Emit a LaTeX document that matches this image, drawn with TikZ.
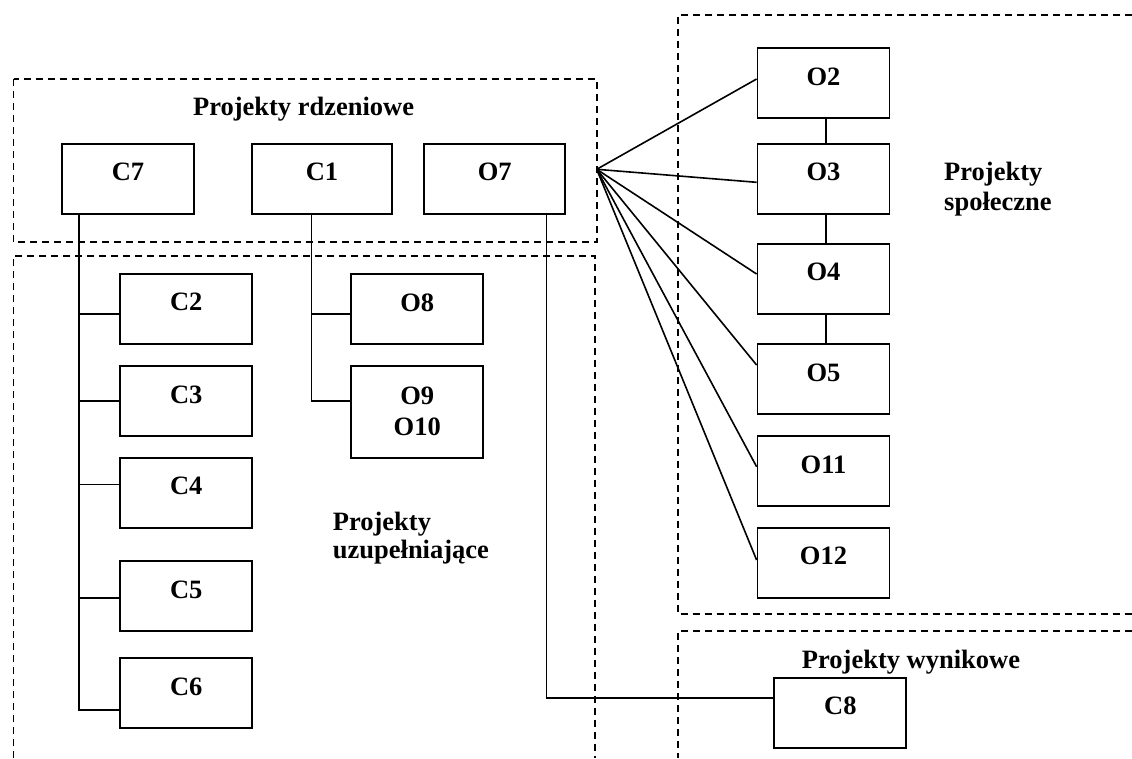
\documentclass[tikz,border=0pt]{standalone}
\usepackage{fontspec}
\setmainfont{Liberation Serif}
\usetikzlibrary{calc}
\begin{document}
\begin{tikzpicture}[x=1pt,y=-1pt,
  boxbase/.style={draw, line width=1.8pt, minimum width=132pt, minimum height=70pt, inner sep=0pt,
    font=\bfseries\fontsize{26.5}{31}\selectfont},
  box/.style={boxbase, text height=18pt, text depth=14pt},
  grp/.style={dash pattern=on 7pt off 5pt, line width=1.6pt},
  link/.style={line width=1.6pt},
  title/.style={font=\bfseries\fontsize{26.5}{30}\selectfont, inner sep=0pt}]
\useasboundingbox (0,0) rectangle (1132,758);

% group frames
\draw[grp] (13.5,78.7) rectangle (596.7,242);
\draw[grp] (13.5,758) -- (13.5,255.7) -- (595,255.7) -- (595,758);
\draw[grp] (1132,14.7) -- (678,14.7) -- (678,614) -- (1132,614);
\draw[grp] (1132,631) -- (678,631) -- (678,758);

% group titles
\node[title, anchor=base] (trdz) at (303.6,115) {Projekty rdzeniowe};
\node[title, anchor=base] (twyn) at (911,668.3) {Projekty wynikowe};
\node[title, anchor=north west, align=left] (tspo) at (944,161.7) {Projekty\\społeczne};
\node[title, anchor=north west, align=left, font=\bfseries\fontsize{26.5}{28.5}\selectfont] (tuzu) at (332.7,511.7) {Projekty\\uzupełniające};

% core projects
\node[box] (C7) at (128,178.7) {C7};
\node[box, minimum width=140pt] (C1) at (322,178.7) {C1};
\node[box, minimum width=141pt] (O7) at (494.7,178.7) {O7};

% complementary projects
\node[box] (C2) at (186.3,308.8) {C2};
\node[box] (C3) at (186.3,401.2) {C3};
\node[box] (C4) at (186.3,492.7) {C4};
\node[box] (C5) at (186.3,596.2) {C5};
\node[box] (C6) at (186.3,693.3) {C6};
\node[box] (O8) at (417.3,309) {O8};
\node[boxbase, minimum height=91.7pt, align=center] (O9) at (417.3,411.8) {O9\\O10};

% social projects
\node[box] (O2) at (823.5,83.3) {O2};
\node[box] (O3) at (823.5,178.7) {O3};
\node[box] (O4) at (823.5,278.7) {O4};
\node[box] (O5) at (823.5,379.2) {O5};
\node[box] (O11) at (823.5,471.3) {O11};
\node[box] (O12) at (823.5,562.7) {O12};

% result projects
\node[box] (C8) at (840.3,712.7) {C8};

% C7 tree
\coordinate (t7) at ([xshift=-49.3pt]C7.south);
\coordinate (b2) at ([yshift=-4.9pt]C2.west);
\coordinate (b3) at (C3.west);
\coordinate (b4) at ([yshift=8.4pt]C4.west);
\coordinate (b5) at ([yshift=-1.5pt]C5.west);
\coordinate (b6) at ([yshift=-16.4pt]C6.west);
\draw[link] (t7) |- (b6);
\draw[link] (b2) -- (b2 -| t7);
\draw[link] (b3) -- (b3 -| t7);
\draw[link] (b4) -- (b4 -| t7);
\draw[link] (b5) -- (b5 -| t7);

% C1 tree
\coordinate (t1) at ([xshift=-10.5pt]C1.south);
\coordinate (b8) at ([yshift=-4.7pt]O8.west);
\coordinate (b9) at ([yshift=11.1pt]O9.west);
\draw[link] (t1) |- (b9);
\draw[link] (b8) -- (b8 -| t1);

% O7 to C8
\draw[link] ([xshift=51.8pt]O7.south) |- ([yshift=14.7pt]C8.west);

% fan to social projects
\coordinate (fan) at (596.7,169.3);
\draw[link] (fan) -- ([yshift=4.3pt]O2.west);
\draw[link] (fan) -- ([yshift=-3.6pt]O3.west);
\draw[link] (fan) -- ([yshift=4.7pt]O4.west);
\draw[link] (fan) -- ([yshift=14.2pt]O5.west);
\draw[link] (fan) -- ([yshift=4.6pt]O11.west);
\draw[link] (fan) -- ([yshift=2.7pt]O12.west);

% chain of social projects
\draw[link] ([xshift=2.5pt]O2.south) -- ([xshift=2.5pt]O3.north);
\draw[link] ([xshift=2.5pt]O3.south) -- ([xshift=2.5pt]O4.north);
\draw[link] ([xshift=2.5pt]O4.south) -- ([xshift=2.5pt]O5.north);
\end{tikzpicture}
\end{document}
